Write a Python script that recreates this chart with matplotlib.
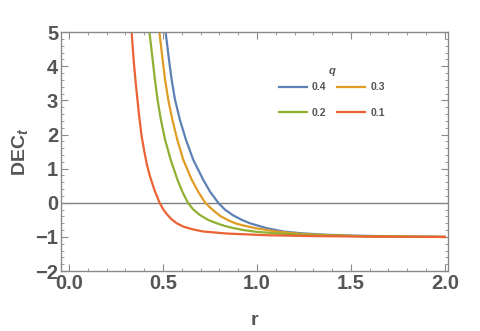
import matplotlib
matplotlib.use("Agg")
import matplotlib.pyplot as plt
from matplotlib.ticker import MultipleLocator

plt.rcParams['font.family'] = ['Liberation Sans', 'DejaVu Sans']
plt.rcParams['mathtext.fontset'] = 'custom'
plt.rcParams['mathtext.rm'] = 'Liberation Sans'
plt.rcParams['mathtext.bf'] = 'Liberation Sans:bold'
plt.rcParams['mathtext.it'] = 'Liberation Sans:italic:bold'

# curves, q = 0.1 ... 0.4
r_q01 = [0.32, 0.333, 0.345, 0.356, 0.372, 0.385, 0.399, 0.415, 0.431, 0.455, 0.482,
         0.50, 0.52, 0.545, 0.573, 0.61, 0.66, 0.714, 0.84, 1.05, 1.3, 1.6, 2.0]
dec_q01 = [6.3, 5.0, 4.1, 3.45, 2.6, 2.0, 1.55, 1.1, 0.77, 0.37, 0.0,
           -0.18, -0.33, -0.48, -0.6, -0.7, -0.78, -0.84, -0.9, -0.95, -0.975, -0.99, -1.0]

r_q02 = [0.41, 0.428, 0.445, 0.457, 0.471, 0.489, 0.511, 0.541, 0.577, 0.605, 0.633,
         0.66, 0.697, 0.74, 0.786, 0.83, 0.874, 0.93, 0.998, 1.14, 1.3, 1.6, 2.0]
dec_q02 = [6.2, 5.0, 4.19, 3.61, 3.02, 2.43, 1.85, 1.26, 0.675, 0.3, 0.0,
           -0.19, -0.36, -0.5, -0.6, -0.68, -0.74, -0.8, -0.85, -0.91, -0.95, -0.985, -1.0]

r_q03 = [0.465, 0.481, 0.498, 0.511, 0.528, 0.550, 0.576, 0.608, 0.653, 0.69, 0.725,
         0.765, 0.803, 0.85, 0.89, 0.94, 0.99, 1.10, 1.23, 1.4, 1.6, 2.0]
dec_q03 = [6.2, 5.0, 4.19, 3.61, 3.02, 2.43, 1.85, 1.26, 0.675, 0.3, 0.0,
           -0.21, -0.38, -0.52, -0.61, -0.68, -0.74, -0.84, -0.91, -0.955, -0.98, -1.0]

r_q04 = [0.50, 0.507, 0.514, 0.532, 0.546, 0.564, 0.590, 0.622, 0.661, 0.714, 0.75,
         0.794, 0.83, 0.874, 0.92, 0.963, 1.05, 1.14, 1.23, 1.35, 1.5, 1.75, 2.0]
dec_q04 = [6.0, 5.45, 5.0, 4.19, 3.61, 3.02, 2.43, 1.85, 1.26, 0.675, 0.33,
           0.0, -0.2, -0.37, -0.5, -0.6, -0.74, -0.84, -0.89, -0.93, -0.96, -0.985, -1.0]

q_labels = ['0.4', '0.2', '0.3', '0.1']

fig = plt.figure(figsize=(4.8, 3.31), dpi=100)
ax = fig.add_axes([0.127, 0.181, 0.806, 0.722])

gray = '#8a8a8a'
txt = '#555555'

ax.axhline(0, color='#808080', lw=1.0, zorder=1)

l4, = ax.plot(r_q04, dec_q04, color='#5E81B5', lw=1.6)
l3, = ax.plot(r_q03, dec_q03, color='#E19C24', lw=1.6)
l2, = ax.plot(r_q02, dec_q02, color='#8FB032', lw=1.6)
l1, = ax.plot(r_q01, dec_q01, color='#EB6235', lw=1.6)

ax.set_xlim(-0.043, 2.016)
ax.set_ylim(-2, 5)

ax.xaxis.set_major_locator(MultipleLocator(0.5))
ax.xaxis.set_minor_locator(MultipleLocator(0.1))
ax.yaxis.set_major_locator(MultipleLocator(1))
ax.yaxis.set_minor_locator(MultipleLocator(0.2))
ax.xaxis.set_major_formatter(lambda v, p: f'{v:.1f}')
ax.yaxis.set_major_formatter(lambda v, p: f'{v:.0f}'.replace('-', '\u2212'))

for s in ax.spines.values():
    s.set_color(gray)
    s.set_linewidth(1.0)

ax.tick_params(which='both', direction='in', top=True, right=True, color=gray,
               labelcolor=txt, labelsize=14.5)
ax.tick_params(which='major', length=5, width=0.8, pad=2)
ax.tick_params(which='minor', length=2.5, width=0.6)
for lab in ax.get_xticklabels() + ax.get_yticklabels():
    lab.set_fontweight('bold')

ax.set_xlabel('r', fontsize=14, fontweight='bold', color=txt, labelpad=14)
ax.set_ylabel(r'$\mathbf{DEC}_{t}$', fontsize=14, color=txt, labelpad=4)

leg = ax.legend([l4, l2, l3, l1], q_labels, ncol=2,
                loc='center', bbox_to_anchor=(0.70, 0.715), frameon=False,
                fontsize=7.5, handlelength=2.7, columnspacing=1.0,
                handletextpad=0.5, labelspacing=1.5)
for t in leg.get_texts():
    t.set_color(txt)
    t.set_fontweight('bold')
ax.text(0.70, 0.837, 'q', transform=ax.transAxes, ha='center', va='center',
        fontsize=8, fontweight='bold', fontstyle='italic', color=txt)

fig.savefig('out.png', dpi=100)
